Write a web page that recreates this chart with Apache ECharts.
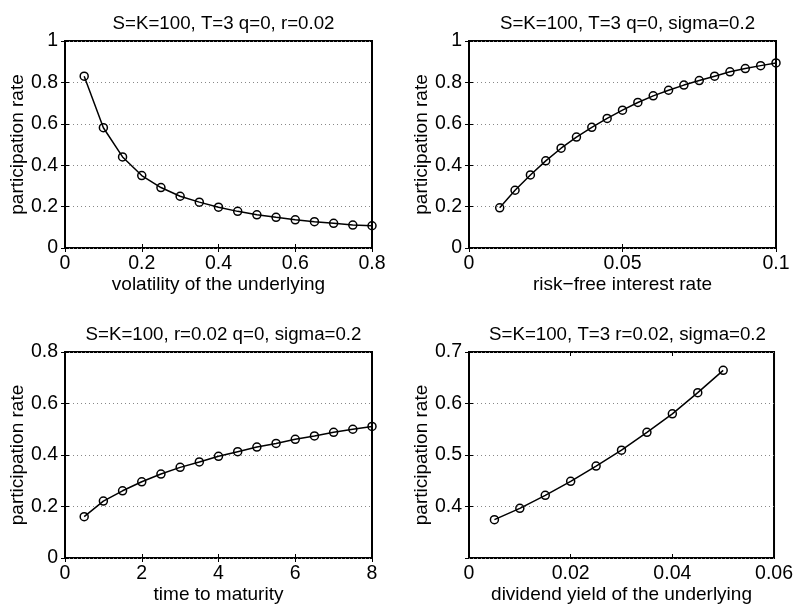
<!DOCTYPE html>
<html>
<head>
<meta charset="utf-8">
<script src="https://cdn.jsdelivr.net/npm/echarts@6/dist/echarts.min.js"></script>
<style>
html,body{margin:0;padding:0;background:#fff;}
#chart{width:796px;height:605px;}
</style>
</head>
<body>
<div id="chart"></div>
<script>
// ---- data ----
var titles = [
  'S=K=100, T=3 q=0, r=0.02',
  'S=K=100, T=3 q=0, sigma=0.2',
  'S=K=100, r=0.02 q=0, sigma=0.2',
  'S=K=100, T=3 r=0.02, sigma=0.2'
];
var xNames = [
  'volatility of the underlying',
  'risk\u2212free interest rate',
  'time to maturity',
  'dividend yield of the underlying'
];
var yName = 'participation rate';

var volX = [0.05,0.10,0.15,0.20,0.25,0.30,0.35,0.40,0.45,0.50,0.55,0.60,0.65,0.70,0.75,0.80];
var volY = [0.830,0.581,0.440,0.350,0.292,0.250,0.2215,0.197,0.177,0.1605,0.148,0.136,0.127,0.119,0.111,0.1075];

var rateX = [0.010,0.015,0.020,0.025,0.030,0.035,0.040,0.045,0.050,0.055,0.060,0.065,0.070,0.075,0.080,0.085,0.090,0.095,0.100];
var rateY = [0.194,0.279,0.353,0.421,0.482,0.536,0.583,0.626,0.666,0.703,0.735,0.762,0.787,0.809,0.830,0.851,0.867,0.881,0.894];

var matX = [0.5,1.0,1.5,2.0,2.5,3.0,3.5,4.0,4.5,5.0,5.5,6.0,6.5,7.0,7.5,8.0];
var matY = [0.1605,0.221,0.261,0.296,0.326,0.352,0.373,0.395,0.413,0.431,0.445,0.461,0.474,0.488,0.500,0.511];

var divX = [0.005,0.010,0.015,0.020,0.025,0.030,0.035,0.040,0.045,0.050];
var divY = [0.3744,0.3964,0.4217,0.4489,0.4786,0.5094,0.544,0.580,0.621,0.6644];

var xRanges = [[0,0.8,0.2],[0,0.1,0.05],[0,8,2],[0,0.06,0.02]];
var yRanges = [[0,1,0.2],[0,1,0.2],[0,0.8,0.2],[0.3,0.7,0.1]];
var showYMin = [true,true,true,false];

var seriesX = [volX, rateX, matX, divX];
var seriesY = [volY, rateY, matY, divY];

// ---- layout ----
var gridsPos = [
  {left:65, top:41, width:307, height:207},
  {left:469, top:41, width:307, height:207},
  {left:65, top:352, width:307, height:206},
  {left:469, top:352, width:307, height:206}
];
var FONT = 'Liberation Sans, Arial, Helvetica, sans-serif';

var grid = [], xAxis = [], yAxis = [], series = [], title = [];
for (var i = 0; i < 4; i++) {
  var g = gridsPos[i];
  grid.push({left:g.left, top:g.top, width:g.width, height:g.height, show:true,
    borderColor:'#000', borderWidth:2, backgroundColor:'#fff', containLabel:false});
  title.push({text:titles[i], left:g.left + g.width/2, top:g.top - 32, textAlign:'center',
    textStyle:{fontFamily:FONT, fontSize:18.7, fontWeight:'normal', color:'#000'}});
  var xr = xRanges[i], yr = yRanges[i];
  xAxis.push({type:'value', gridIndex:i, position:'bottom', min:xr[0], max:xr[1], interval:xr[2],
    name:xNames[i], nameLocation:'middle', nameGap:22,
    nameTextStyle:{fontFamily:FONT, fontSize:19, color:'#000'},
    axisLine:{show:false}, axisTick:{show:true, inside:true, length:4, lineStyle:{color:'#000', width:1}},
    axisLabel:{fontFamily:FONT, fontSize:19.5, color:'#000', margin:6},
    splitLine:{show:false}});
  xAxis.push({type:'value', gridIndex:i, position:'top', min:xr[0], max:xr[1], interval:xr[2],
    axisLine:{show:false}, axisTick:{show:true, inside:true, length:4, lineStyle:{color:'#000', width:1}},
    axisLabel:{show:false}, splitLine:{show:false}});
  yAxis.push({type:'value', gridIndex:i, position:'left', min:yr[0], max:yr[1], interval:yr[2],
    name:yName, nameLocation:'middle', nameGap:31,
    nameTextStyle:{fontFamily:FONT, fontSize:19, color:'#000'},
    axisLine:{show:false}, axisTick:{show:true, inside:true, length:4, lineStyle:{color:'#000', width:1}},
    axisLabel:{fontFamily:FONT, fontSize:19.5, color:'#000', margin:7, showMinLabel:showYMin[i]},
    splitLine:{show:true, lineStyle:{color:'#888', width:1, type:[1,3]}}});
  yAxis.push({type:'value', gridIndex:i, position:'right', min:yr[0], max:yr[1], interval:yr[2],
    axisLine:{show:false}, axisTick:{show:true, inside:true, length:4, lineStyle:{color:'#000', width:1}},
    axisLabel:{show:false}, splitLine:{show:false}});

  var pts = [];
  for (var k = 0; k < seriesX[i].length; k++) pts.push([seriesX[i][k], seriesY[i][k]]);
  series.push({type:'line', xAxisIndex:2*i, yAxisIndex:2*i, data:pts,
    symbol:'circle', symbolSize:8, showSymbol:true,
    lineStyle:{color:'#000', width:1.5},
    itemStyle:{color:'rgba(0,0,0,0)', borderColor:'#000', borderWidth:1.5},
    z:5});
}

var chart = echarts.init(document.getElementById('chart'), null, {renderer:'canvas'});
chart.setOption({
  animation:false,
  backgroundColor:'#fff',
  title:title, grid:grid, xAxis:xAxis, yAxis:yAxis, series:series
});
</script>
</body>
</html>
